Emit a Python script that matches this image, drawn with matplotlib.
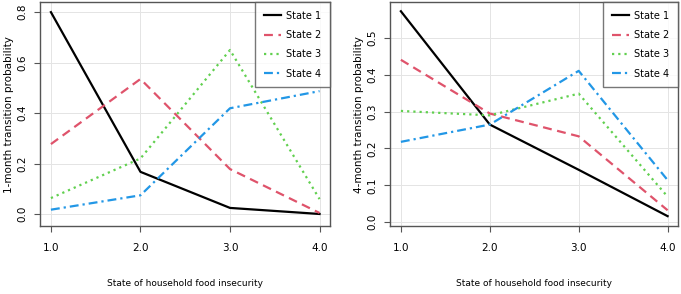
import numpy as np
import matplotlib.pyplot as plt

# x positions (state of household food insecurity)
states = [1.0, 2.0, 3.0, 4.0]
tick_labels = ['1.0', '2.0', '3.0', '4.0']
series_names = ['State 1', 'State 2', 'State 3', 'State 4']

# 1-month transition probabilities
one_s1 = [0.800, 0.167, 0.024, 0.000]
one_s2 = [0.277, 0.535, 0.178, 0.004]
one_s3 = [0.063, 0.220, 0.650, 0.059]
one_s4 = [0.017, 0.074, 0.419, 0.487]

# 4-month transition probabilities
four_s1 = [0.573, 0.265, 0.142, 0.016]
four_s2 = [0.441, 0.295, 0.233, 0.032]
four_s3 = [0.302, 0.290, 0.349, 0.069]
four_s4 = [0.218, 0.265, 0.411, 0.114]

colors = ['black', '#DF536B', '#61D04F', '#2297E6']
styles = ['-', (0, (4, 2.5)), (0, (1, 1.8)), (0, (4, 1.8, 1, 1.8))]


def draw_panel(ax, data, yticks, ylim, ylabel):
    for vals, c, ls, name in zip(data, colors, styles, series_names):
        ax.plot(states, vals, color=c, linestyle=ls, linewidth=1.6, label=name)
    ax.set_xlim(0.88, 4.12)
    ax.set_ylim(*ylim)
    ax.set_xticks(states)
    ax.set_xticklabels(tick_labels, fontsize=7.5)
    ax.set_yticks(yticks)
    ax.set_yticklabels(['%.1f' % t for t in yticks], fontsize=7.5, rotation=90, va='center')
    ax.grid(True, color='#e4e4e4', linestyle='-', linewidth=0.7)
    for s in ax.spines.values():
        s.set_color('#555555')
        s.set_linewidth(1.0)
    ax.tick_params(axis='x', length=4, color='#555555', pad=8)
    ax.tick_params(axis='y', length=4, color='#555555', pad=5)
    ax.set_xlabel('State of household food insecurity', fontsize=6.5, labelpad=19)
    ax.set_ylabel(ylabel, fontsize=7.5, labelpad=3)
    leg = ax.legend(loc='upper right', borderaxespad=0, fancybox=False, fontsize=7,
                    handlelength=1.8, labelspacing=0.95, borderpad=0.9, handletextpad=0.5)
    leg.get_frame().set_edgecolor('#555555')
    leg.get_frame().set_linewidth(1.0)


fig = plt.figure(figsize=(6.81, 2.94), dpi=100)
ax1 = fig.add_axes([0.059, 0.231, 0.426, 0.762])
ax2 = fig.add_axes([0.573, 0.231, 0.423, 0.762])

draw_panel(ax1, [one_s1, one_s2, one_s3, one_s4], [0.0, 0.2, 0.4, 0.6, 0.8],
           (-0.048, 0.84), '1-month transition probability')
draw_panel(ax2, [four_s1, four_s2, four_s3, four_s4], [0.0, 0.1, 0.2, 0.3, 0.4, 0.5],
           (-0.011, 0.598), '4-month transition probability')

fig.savefig('out.png', dpi=100)
